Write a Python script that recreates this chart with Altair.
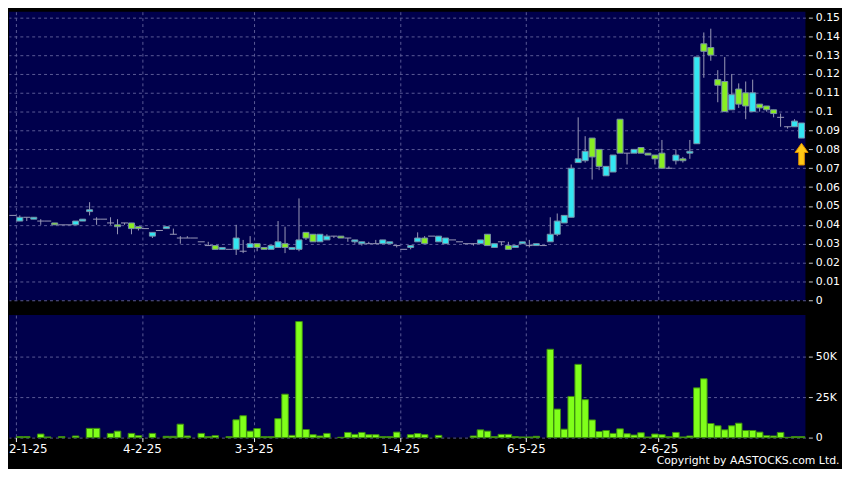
import altair as alt
import pandas as pd

# ---------------- data ----------------
opens = [0.045, 0.042, 0.044, 0.043, 0.042, 0.042, 0.041, 0.040, 0.040, 0.040,
         0.042, 0.047, 0.043, 0.043, 0.041, 0.040, 0.041, 0.041, 0.039, 0.038,
         0.034, 0.037, 0.038, 0.035, 0.033, 0.033, 0.033, 0.031, 0.029, 0.029,
         0.027, 0.027, 0.027, 0.026, 0.028, 0.030, 0.028, 0.027, 0.028, 0.030,
         0.027, 0.027, 0.036, 0.035, 0.031, 0.032, 0.034, 0.034, 0.033, 0.031,
         0.030, 0.030, 0.030, 0.030, 0.030, 0.029, 0.027, 0.028, 0.031, 0.033,
         0.034, 0.031, 0.030, 0.032, 0.031, 0.030, 0.030, 0.030, 0.035, 0.028,
         0.031, 0.029, 0.028, 0.030, 0.029, 0.029, 0.029, 0.031, 0.035, 0.041,
         0.044, 0.073, 0.074, 0.086, 0.080, 0.066, 0.068, 0.096, 0.078, 0.078,
         0.081, 0.078, 0.077, 0.078, 0.070, 0.074, 0.075, 0.078, 0.083, 0.136,
         0.134, 0.117, 0.116, 0.101, 0.112, 0.110, 0.100, 0.104, 0.103, 0.101,
         0.097, 0.092, 0.092, 0.086]
highs = [0.045, 0.045, 0.044, 0.044, 0.043, 0.042, 0.041, 0.040, 0.040, 0.042,
         0.043, 0.052, 0.044, 0.043, 0.044, 0.043, 0.041, 0.041, 0.039, 0.038,
         0.036, 0.037, 0.039, 0.038, 0.034, 0.034, 0.033, 0.031, 0.031, 0.029,
         0.028, 0.027, 0.040, 0.032, 0.034, 0.030, 0.028, 0.029, 0.042, 0.039,
         0.028, 0.054, 0.036, 0.035, 0.035, 0.035, 0.034, 0.034, 0.033, 0.032,
         0.031, 0.031, 0.032, 0.032, 0.031, 0.029, 0.027, 0.029, 0.036, 0.034,
         0.034, 0.034, 0.033, 0.032, 0.031, 0.030, 0.030, 0.032, 0.035, 0.030,
         0.031, 0.031, 0.029, 0.031, 0.032, 0.030, 0.029, 0.044, 0.046, 0.045,
         0.072, 0.097, 0.087, 0.086, 0.080, 0.071, 0.077, 0.096, 0.078, 0.080,
         0.081, 0.078, 0.077, 0.085, 0.071, 0.080, 0.076, 0.085, 0.129, 0.142,
         0.144, 0.122, 0.129, 0.120, 0.115, 0.116, 0.117, 0.104, 0.103, 0.101,
         0.099, 0.092, 0.096, 0.094]
lows = [0.045, 0.042, 0.042, 0.043, 0.040, 0.042, 0.040, 0.040, 0.040, 0.040,
        0.042, 0.045, 0.040, 0.043, 0.040, 0.035, 0.040, 0.035, 0.037, 0.038,
        0.033, 0.037, 0.038, 0.035, 0.030, 0.033, 0.033, 0.031, 0.029, 0.027,
        0.027, 0.027, 0.024, 0.025, 0.028, 0.026, 0.027, 0.027, 0.028, 0.025,
        0.027, 0.026, 0.032, 0.031, 0.031, 0.032, 0.033, 0.033, 0.031, 0.030,
        0.029, 0.030, 0.030, 0.030, 0.030, 0.028, 0.027, 0.027, 0.031, 0.030,
        0.034, 0.031, 0.030, 0.032, 0.031, 0.030, 0.029, 0.030, 0.029, 0.028,
        0.029, 0.027, 0.028, 0.030, 0.028, 0.029, 0.029, 0.031, 0.034, 0.041,
        0.044, 0.073, 0.073, 0.064, 0.069, 0.066, 0.068, 0.078, 0.072, 0.078,
        0.078, 0.077, 0.072, 0.070, 0.070, 0.072, 0.073, 0.075, 0.083, 0.118,
        0.127, 0.105, 0.100, 0.101, 0.102, 0.096, 0.100, 0.100, 0.100, 0.097,
        0.092, 0.091, 0.092, 0.086]
closes = [0.045, 0.044, 0.044, 0.044, 0.042, 0.042, 0.040, 0.040, 0.040, 0.042,
          0.043, 0.048, 0.043, 0.043, 0.041, 0.039, 0.041, 0.038, 0.038, 0.038,
          0.036, 0.037, 0.039, 0.035, 0.033, 0.033, 0.033, 0.031, 0.029, 0.027,
          0.028, 0.027, 0.033, 0.026, 0.030, 0.028, 0.027, 0.029, 0.031, 0.028,
          0.028, 0.032, 0.033, 0.031, 0.035, 0.034, 0.034, 0.033, 0.033, 0.032,
          0.031, 0.030, 0.030, 0.032, 0.031, 0.029, 0.027, 0.029, 0.033, 0.030,
          0.034, 0.034, 0.033, 0.032, 0.031, 0.030, 0.030, 0.032, 0.029, 0.030,
          0.031, 0.027, 0.029, 0.031, 0.029, 0.030, 0.029, 0.035, 0.042, 0.045,
          0.070, 0.075, 0.079, 0.076, 0.071, 0.071, 0.077, 0.078, 0.078, 0.080,
          0.078, 0.077, 0.075, 0.070, 0.070, 0.077, 0.074, 0.079, 0.129, 0.132,
          0.130, 0.114, 0.100, 0.109, 0.104, 0.103, 0.110, 0.102, 0.101, 0.099,
          0.097, 0.092, 0.095, 0.094]
volumes_k = [0, 0.6, 0.6, 0, 2.2, 0.4, 0, 0.6, 0, 1.0,
             0, 5.7, 5.7, 0, 2.6, 4.0, 0, 2.6, 1.2, 0,
             2.6, 0, 0.8, 0.8, 8.3, 1.0, 0, 2.6, 0.6, 1.2,
             0, 0.6, 11.0, 13.5, 4.0, 5.6, 0.6, 0.6, 11.7, 26.8,
             1.4, 71.6, 5.0, 1.8, 1.0, 2.6, 0, 0.2, 3.2, 2.0,
             3.2, 1.8, 1.8, 0.6, 0.6, 3.4, 0, 1.8, 2.5, 1.8,
             0, 1.4, 0, 0, 0, 0, 1.0, 4.8, 4.0, 0.6,
             2.0, 2.0, 0.6, 0.4, 0.4, 0.8, 0, 54.5, 17.6, 5.2,
             25.4, 45.2, 23.4, 10.9, 3.8, 4.4, 2.6, 5.4, 2.4, 1.6,
             3.0, 0.4, 2.2, 1.8, 0.6, 3.2, 0.4, 1.0, 30.7, 36.3,
             8.7, 7.3, 4.8, 7.3, 8.9, 4.4, 4.4, 3.4, 1.2, 1.0,
             3.2, 0.2, 0.6, 0.6]

month_pos = [0.5, 18.5, 34.5, 55.5, 73.5, 92.5]
month_labels = ["2-1-25", "4-2-25", "3-3-25", "1-4-25", "6-5-25", "2-6-25"]
price_ticks = [0, 0.01, 0.02, 0.03, 0.04, 0.05, 0.06, 0.07, 0.08,
               0.09, 0.1, 0.11, 0.12, 0.13, 0.14, 0.15]
volume_ticks = [0, 25000, 50000]
marker_slot = [113]
marker_price = [0.0775]

# ---------------- styling ----------------
NAVY = "#00004c"
CYAN = "#33e6f2"
GREEN = "#88ee22"
BODY_STROKE = "#7890a8"
WICK = "#9a9ab8"
GRID = "#5a5a96"
VOL_FILL = "#80ff1a"
VOL_STROKE = "#3c8c10"
FONT = "DejaVu Sans"

n = len(opens)
df = pd.DataFrame({
    "i": list(range(n)),
    "open": opens,
    "high": highs,
    "low": lows,
    "close": closes,
    "vol": [v * 1000 for v in volumes_k],
})
marker_df = pd.DataFrame({"i": marker_slot, "p": marker_price})

x_scale = alt.Scale(domain=[-0.55, 113.56], nice=False, zero=False)
p_scale = alt.Scale(domain=[0, 0.153], nice=False, zero=False)
v_scale = alt.Scale(domain=[0, 75600], nice=False)

label_expr = "".join(
    f"datum.value == {p} ? '{l}' : " for p, l in zip(month_pos, month_labels)
) + "''"

x_axis_top = alt.Axis(values=month_pos, labels=False, ticks=False, domain=False,
                      grid=True, gridColor=GRID, gridDash=[3, 3], gridWidth=1,
                      title=None)
x_axis_bot = alt.Axis(values=month_pos, labelExpr=label_expr, ticks=True,
                      tickColor="white", tickSize=4, domain=False, grid=True,
                      gridColor=GRID, gridDash=[3, 3], gridWidth=1, title=None,
                      labelColor="white", labelFont=FONT, labelFontSize=12,
                      labelPadding=2, labelFlush=10, labelFlushOffset=8)
p_axis = alt.Axis(orient="right", values=price_ticks,
                  labelExpr="format(datum.value, '.2~f')", domain=False,
                  grid=True, gridColor=GRID, gridDash=[3, 3], gridWidth=1,
                  ticks=True, tickColor="#cccccc", tickSize=4, offset=3,
                  labelColor="white", labelFont=FONT, labelFontSize=11,
                  labelPadding=3, title=None)
v_axis = alt.Axis(orient="right", values=volume_ticks,
                  labelExpr="datum.value == 0 ? '0' : (datum.value / 1000) + 'K'",
                  domain=False, grid=True, gridColor=GRID, gridDash=[3, 3],
                  gridWidth=1, ticks=True, tickColor="#cccccc", tickSize=4,
                  offset=3, labelColor="white", labelFont=FONT,
                  labelFontSize=11, labelPadding=3, title=None)

base = alt.Chart(df)

wicks = base.transform_filter("datum.high > datum.low").mark_rule(
    color=WICK, strokeWidth=1
).encode(
    x=alt.X("i:Q", scale=x_scale, axis=x_axis_top),
    y=alt.Y("low:Q", scale=p_scale, axis=p_axis),
    y2="high:Q",
)

flats = base.transform_filter("datum.open == datum.close").transform_calculate(
    xa="datum.i - 0.5", xb="datum.i + 0.5"
).mark_rule(color=WICK, strokeWidth=1).encode(
    x=alt.X("xa:Q", scale=x_scale, axis=x_axis_top),
    x2="xb:Q",
    y=alt.Y("close:Q", scale=p_scale, axis=p_axis),
)

bodies = base.transform_filter("datum.open != datum.close").transform_calculate(
    xa="datum.i - 0.43", xb="datum.i + 0.43"
).mark_rect(stroke=BODY_STROKE, strokeWidth=1).encode(
    x=alt.X("xa:Q", scale=x_scale, axis=x_axis_top),
    x2="xb:Q",
    y=alt.Y("open:Q", scale=p_scale, axis=p_axis),
    y2="close:Q",
    color=alt.condition("datum.close > datum.open", alt.value(CYAN), alt.value(GREEN)),
)

arrow_path = "M0,-1L0.6,-0.15L0.26,-0.15L0.26,1L-0.26,1L-0.26,-0.15L-0.6,-0.15Z"
marker = alt.Chart(marker_df).mark_point(
    shape=arrow_path, filled=True, size=484, fill="#ffc814",
    stroke="#d88a00", strokeWidth=1, opacity=1
).encode(
    x=alt.X("i:Q", scale=x_scale, axis=x_axis_top),
    y=alt.Y("p:Q", scale=p_scale, axis=p_axis),
)

price_panel = alt.layer(wicks, flats, bodies, marker).properties(width=806, height=292)

vol_bars = base.transform_filter("datum.vol > 0").transform_calculate(
    xa="datum.i - 0.47", xb="datum.i + 0.47", base0="0"
).mark_rect(fill=VOL_FILL, stroke=VOL_STROKE, strokeWidth=1).encode(
    x=alt.X("xa:Q", scale=x_scale, axis=x_axis_bot),
    x2="xb:Q",
    y=alt.Y("vol:Q", scale=v_scale, axis=v_axis),
    y2="base0:Q",
)

volume_panel = vol_bars.properties(width=806, height=124)

chart = alt.vconcat(price_panel, volume_panel, spacing=10).properties(
    background="black",
    padding={"left": 0, "right": 2, "top": 0, "bottom": 0},
    title=alt.TitleParams(
        "Copyright by AASTOCKS.com Ltd.", orient="bottom", anchor="end",
        color="white", fontSize=11, font=FONT, fontWeight="normal", offset=1
    ),
).configure_view(fill=NAVY, stroke=None)

chart.save("out.html", embed_options={"renderer": "svg", "actions": False})
